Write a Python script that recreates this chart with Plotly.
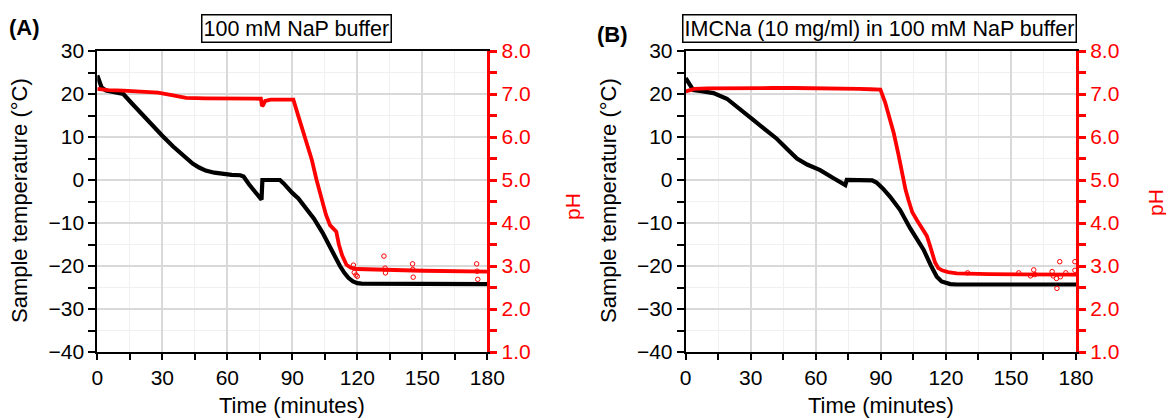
import plotly.graph_objects as go

# ---------------- data ----------------
# Panel A: 100 mM NaP buffer
tA = [0, 1, 2, 4, 8, 12, 16, 20, 25, 30, 35, 40, 44, 47, 50, 54, 58, 62, 66, 67.5,
      70, 73, 75.8, 76.2, 80, 84.3, 86, 88, 90, 92.8, 96, 100, 104, 107.4, 110, 112,
      114, 116, 118, 120, 122, 125, 150, 180]
TA = [24.3, 23.0, 21.5, 20.8, 20.5, 20.0, 17.8, 15.6, 12.9, 10.3, 7.8, 5.5, 3.8, 2.9,
      2.2, 1.7, 1.4, 1.2, 1.1, 0.8, -1.0, -2.8, -4.6, 0.0, 0.0, 0.0, -0.8, -2.0, -3.0,
      -4.3, -6.4, -9.0, -12.3, -15.8, -18.2, -20.0, -21.6, -22.8, -23.6, -24.0, -24.1,
      -24.1, -24.1, -24.2]
tpA = [0, 5, 12, 20, 28, 35, 41, 50, 60, 70, 75.5, 76, 76.5, 77.5, 80, 85, 90.5, 93,
       96, 99, 101.2, 103.5, 105.5, 107.4, 109, 110.3, 111.5, 113, 115, 117, 120, 130,
       150, 180]
pHA = [7.12, 7.09, 7.08, 7.06, 7.03, 6.97, 6.91, 6.90, 6.90, 6.90, 6.89, 6.72, 6.74,
       6.84, 6.87, 6.87, 6.87, 6.45, 5.99, 5.47, 5.00, 4.55, 4.20, 3.95, 3.85, 3.80,
       3.50, 3.25, 3.03, 2.96, 2.93, 2.91, 2.89, 2.87]
outA_t = [118.2, 118.6, 119.4, 120.0, 132.3, 132.8, 133.0, 145.5, 145.6, 145.8, 175.1, 175.3, 175.6]
outA_pH = [3.02, 2.85, 2.79, 2.76, 3.23, 2.95, 2.84, 3.05, 2.92, 2.74, 3.05, 2.88, 2.69]

# Panel B: IMCNa (10 mg/ml) in 100 mM NaP buffer
tB = [0, 1.5, 3.5, 8, 12.8, 19, 25, 31.3, 37, 42, 47, 51.3, 56, 62, 68.2, 73.6, 74.3,
      80, 86, 88, 91, 94.3, 98.9, 103.5, 106.5, 109.7, 113, 115.8, 118, 120, 122, 125,
      150, 180]
TB = [23.7, 22.3, 20.9, 20.6, 20.2, 18.9, 16.6, 13.9, 11.6, 9.6, 7.1, 5.0, 3.6, 2.3,
      0.4, -1.2, 0.0, 0.0, -0.1, -0.6, -2.0, -3.9, -7.0, -11.2, -13.6, -16.2, -19.8,
      -22.5, -23.6, -24.0, -24.2, -24.3, -24.3, -24.3]
tpB = [0, 2, 4, 10, 20, 30, 40, 50, 60, 70, 80, 85, 89.8, 92, 94, 96, 98, 100, 101.4,
       102.7, 104.5, 106.6, 109, 111.2, 112.5, 113.6, 115, 116.5, 118.2, 121, 125, 140,
       160, 180]
pHB = [7.06, 7.09, 7.12, 7.13, 7.14, 7.14, 7.14, 7.14, 7.14, 7.13, 7.12, 7.11, 7.10,
       6.80, 6.45, 6.08, 5.62, 5.10, 4.77, 4.54, 4.25, 4.07, 3.88, 3.70, 3.50, 3.29,
       3.08, 2.95, 2.90, 2.86, 2.83, 2.81, 2.80, 2.80]
outB_t = [130, 153.6, 159, 160.5, 161, 169, 169.5, 171, 171.2, 172.5, 172.8, 175.3, 179.5, 179.5]
outB_pH = [2.84, 2.84, 2.77, 2.91, 2.80, 2.87, 2.77, 2.71, 2.48, 3.10, 2.75, 2.84, 3.10, 2.90]

x_ticks = [0, 30, 60, 90, 120, 150, 180]
panel_labels = ["(A)", "(B)"]
panel_titles = ["100 mM NaP buffer", "IMCNa (10 mg/ml) in 100 mM NaP buffer"]

# ---------------- figure ----------------
W, H = 1166, 419
FONT = "Liberation Sans, Arial, sans-serif"
RED = "#ff0000"
TICK_SIZE = 21

fig = go.Figure()

def add_panel(sfx_x, sfx_y, sfx_y2, t, T, tp, ph, ot, oph):
    fig.add_trace(go.Scatter(x=t, y=T, mode="lines", xaxis="x" + sfx_x, yaxis="y" + sfx_y,
                             line=dict(color="black", width=4.2), hoverinfo="skip"))
    fig.add_trace(go.Scatter(x=tp, y=ph, mode="lines", xaxis="x" + sfx_x, yaxis="y" + sfx_y2,
                             line=dict(color=RED, width=3.8), hoverinfo="skip"))
    fig.add_trace(go.Scatter(x=ot, y=oph, mode="markers", xaxis="x" + sfx_x, yaxis="y" + sfx_y2,
                             marker=dict(symbol="circle-open", size=4.5, color=RED,
                                         line=dict(width=1, color=RED)), hoverinfo="skip"))

add_panel("", "", "2", tA, TA, tpA, pHA, outA_t, outA_pH)
add_panel("2", "3", "4", tB, TB, tpB, pHB, outB_t, outB_pH)

ydom = [1 - 352 / H, 1 - 51 / H]
xdomA = [97.3 / W, 487.3 / W]
xdomB = [685.7 / W, 1076.0 / W]

def xaxis(dom, anchor):
    return dict(domain=dom, anchor=anchor, range=[0, 180], tickvals=x_ticks, automargin=False,
                showgrid=True, gridcolor="#d9d9d9", gridwidth=1.5,
                showline=True, linecolor="black", linewidth=2, mirror=True,
                ticks="outside", ticklen=6, tickwidth=2, tickcolor="black",
                minor=dict(dtick=15, tick0=0, showgrid=True, gridcolor="#f0f0f0", gridwidth=1,
                           ticks="outside", ticklen=6, tickwidth=2, tickcolor="black"),
                tickfont=dict(family=FONT, size=TICK_SIZE, color="black"), zeroline=False,
                fixedrange=True)

def yaxis(anchor):
    return dict(domain=ydom, anchor=anchor, range=[-40, 30], dtick=10, tick0=0, automargin=False,
                showgrid=True, gridcolor="#d9d9d9", gridwidth=1.5,
                showline=True, linecolor="black", linewidth=2,
                ticks="outside", ticklen=7, tickwidth=2, tickcolor="black",
                minor=dict(dtick=5, tick0=0, showgrid=True, gridcolor="#f0f0f0", gridwidth=1,
                           ticks="outside", ticklen=7, tickwidth=2, tickcolor="black"),
                tickfont=dict(family=FONT, size=TICK_SIZE, color="black"), zeroline=False,
                fixedrange=True)

def y2axis(anchor, over):
    return dict(domain=ydom, anchor=anchor, overlaying=over, side="right", range=[1, 8],
                dtick=1, tick0=0, tickformat=".1f", showgrid=False, automargin=False,
                showline=True, linecolor=RED, linewidth=3,
                ticks="outside", ticklen=7, tickwidth=2.5, tickcolor=RED,
                minor=dict(dtick=0.5, tick0=0, showgrid=False, ticks="outside",
                           ticklen=7, tickwidth=2.5, tickcolor=RED),
                tickfont=dict(family=FONT, size=TICK_SIZE, color=RED), zeroline=False,
                fixedrange=True)

fig.update_layout(
    template="none",
    width=W, height=H, margin=dict(l=0, r=0, t=0, b=0, pad=0, autoexpand=False),
    paper_bgcolor="white", plot_bgcolor="white", showlegend=False,
    xaxis=xaxis(xdomA, "y"), yaxis=yaxis("x"), yaxis2=y2axis("x", "y"),
    xaxis2=xaxis(xdomB, "y3"), yaxis3=yaxis("x2"), yaxis4=y2axis("x2", "y3"),
)

def px(x, y):
    return x / W, 1 - y / H

annots = []
def ann(text, x, y, size=20, color="black", angle=0, bold=False, **kw):
    ax, ay = px(x, y)
    d = dict(text=("<b>%s</b>" % text) if bold else text, x=ax, y=ay, xref="paper", yref="paper",
             xanchor="center", yanchor="middle", showarrow=False, textangle=angle,
             font=dict(family=FONT, size=size, color=color))
    d.update(kw)
    annots.append(d)

# panel A texts
ann(panel_labels[0], 24, 27, size=22, bold=True)
ann(panel_titles[0], 296, 28, size=21.5, bordercolor="black", borderwidth=1.5, borderpad=1)
ann("Sample temperature (°C)", 19, 201, size=22, angle=-90)
ann("pH", 573, 207, size=21, color=RED, angle=-90)
ann("Time (minutes)", 292, 405, size=22)
# panel B texts
ann(panel_labels[1], 612, 34, size=22, bold=True)
ann(panel_titles[1], 879, 28, size=21.5, bordercolor="black", borderwidth=1.5, borderpad=1)
ann("Sample temperature (°C)", 608, 201, size=22, angle=-90)
ann("pH", 1156, 203, size=21, color=RED, angle=-90)
ann("Time (minutes)", 881, 405, size=22)

fig.update_layout(annotations=annots)
fig.write_html("out.html")
